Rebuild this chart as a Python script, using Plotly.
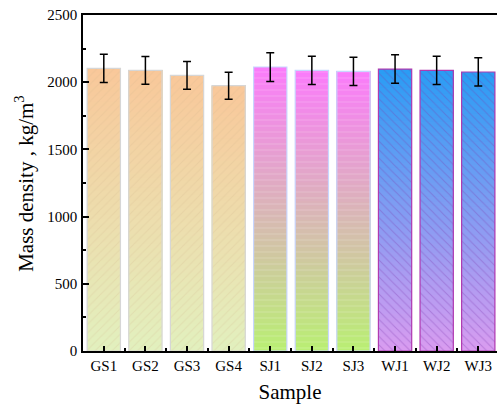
import plotly.graph_objects as go

# Sample names and measured mass density (kg/m^3) with standard deviation
samples = ["GS1", "GS2", "GS3", "GS4", "SJ1", "SJ2", "SJ3", "WJ1", "WJ2", "WJ3"]
density = [2103, 2088, 2051, 1974, 2113, 2088, 2080, 2098, 2088, 2076]
density_err = [105, 104, 103, 100, 107, 105, 105, 106, 105, 105]
group_of = ["GS", "GS", "GS", "GS", "SJ", "SJ", "SJ", "WJ", "WJ", "WJ"]

# Per-group styling: gradient (top colour, bottom colour), hatch, outline
grad_top = {"GS": (249, 200, 154), "SJ": (250, 124, 250), "WJ": (42, 157, 244)}
grad_bot = {"GS": (226, 240, 190), "SJ": (186, 238, 116), "WJ": (216, 156, 240)}
hatch = {"GS": "/", "SJ": "-", "WJ": "\\"}
hatch_col = {"GS": "rgba(210,180,140,0.45)", "SJ": "rgba(255,255,255,0.35)",
             "WJ": "rgba(125,55,175,0.65)"}
edge_col = {"GS": "#d6d6d6", "SJ": "#c8d6ff", "WJ": "#b03ab0"}

x = list(range(len(samples)))
BAR_W = 0.8
N_STEPS = 60

fig = go.Figure()

# Vertical colour gradient: overlapping layers from increasing base up to the bar top
for k in range(N_STEPS):
    t = k / (N_STEPS - 1)
    colors, bases, heights = [], [], []
    for v, g in zip(density, group_of):
        top, bot = grad_top[g], grad_bot[g]
        c = tuple(round(bot[i] + (top[i] - bot[i]) * t) for i in range(3))
        colors.append("rgb(%d,%d,%d)" % c)
        b = v * k / N_STEPS
        bases.append(b)
        heights.append(v - b)
    fig.add_trace(go.Bar(
        x=x, y=heights, base=bases, width=BAR_W,
        marker=dict(color=colors, line=dict(width=0)),
        hoverinfo="skip", showlegend=False,
    ))

# Hatch, outline and error bars on top
fig.add_trace(go.Bar(
    x=x, y=density, width=BAR_W,
    marker=dict(
        color="rgba(0,0,0,0)",
        line=dict(color=[edge_col[g] for g in group_of], width=1.2),
        pattern=dict(
            shape=[hatch[g] for g in group_of],
            fgcolor=[hatch_col[g] for g in group_of],
            bgcolor="rgba(0,0,0,0)",
            size=6, solidity=0.18, fillmode="overlay",
        ),
    ),
    error_y=dict(type="data", array=density_err, visible=True,
                 color="black", thickness=1.5, width=4),
    showlegend=False,
))

font_family = "Liberation Serif, Times New Roman, serif"

fig.update_layout(
    width=497, height=405,
    margin=dict(l=83, r=0, t=15, b=54),
    plot_bgcolor="white", paper_bgcolor="white",
    barmode="overlay",
    font=dict(family=font_family, size=15, color="black"),
    xaxis=dict(
        range=[-0.5, 9.45],
        tickvals=x, ticktext=samples,
        ticks="inside", ticklen=5, tickwidth=1.5, tickcolor="black",
        minor=dict(tick0=0.5, dtick=1, ticks="inside", ticklen=3,
                   tickwidth=1.5, tickcolor="black"),
        showline=True, linecolor="black", linewidth=1.5, mirror=True,
        showgrid=False, zeroline=False,
        tickfont=dict(size=15),
        title=dict(text="Sample", font=dict(size=21), standoff=12),
    ),
    yaxis=dict(
        range=[0, 2500], dtick=500,
        ticks="inside", ticklen=6, tickwidth=1.5, tickcolor="black",
        minor=dict(dtick=250, ticks="inside", ticklen=3,
                   tickwidth=1.5, tickcolor="black"),
        showline=True, linecolor="black", linewidth=1.5, mirror=False,
        showgrid=False, zeroline=False,
        tickfont=dict(size=15),
        ticklabelstandoff=1,
    ),
    annotations=[dict(
        text="Mass density , kg/m<sup>3</sup>",
        xref="paper", yref="paper", x=-0.143, y=0.5,
        xanchor="center", yanchor="middle", textangle=-90,
        showarrow=False, font=dict(size=21),
    )],
)

fig.write_html("out.html")
